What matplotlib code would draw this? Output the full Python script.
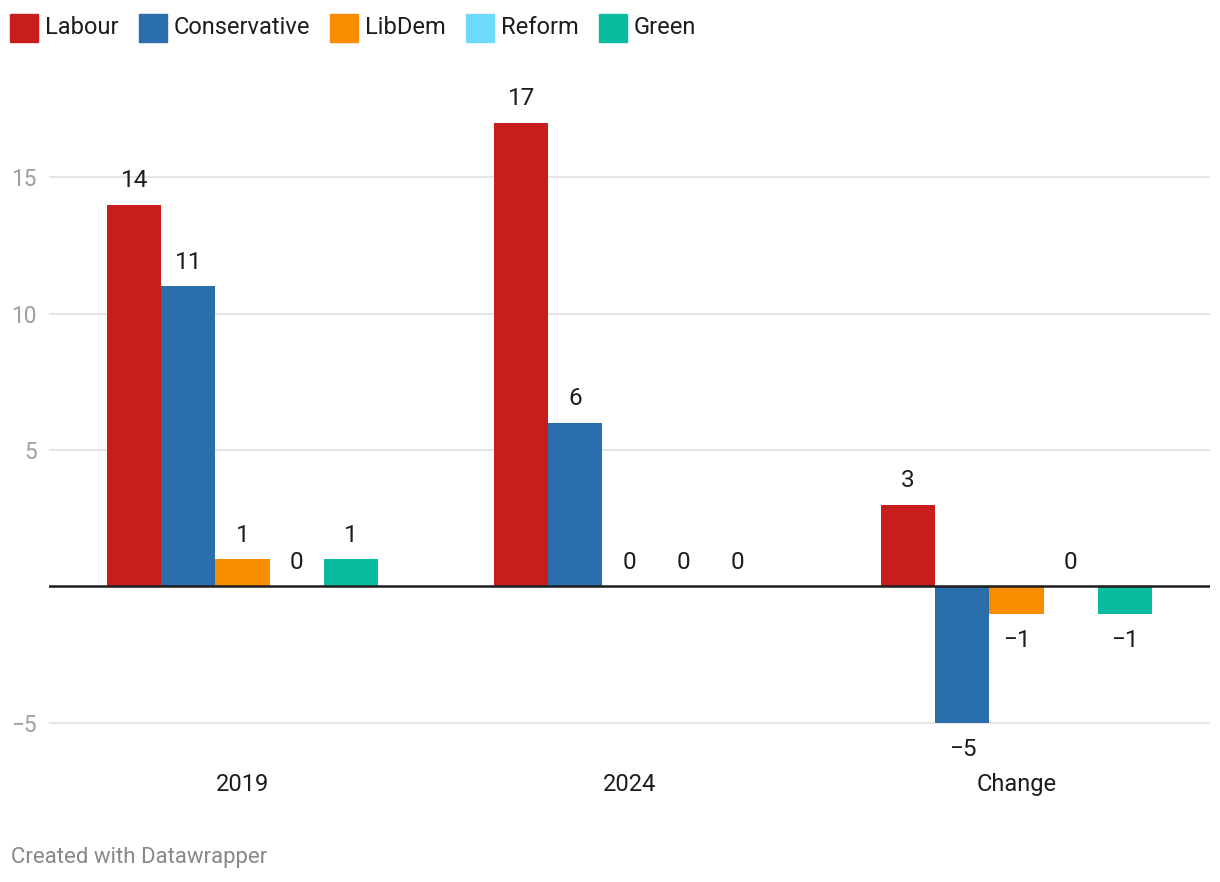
import numpy as np
import matplotlib.pyplot as plt
from matplotlib.patches import Rectangle

plt.rcParams['font.family'] = ['Roboto', 'DejaVu Sans']

groups = ['2019', '2024', 'Change']
parties = ['Labour', 'Conservative', 'LibDem', 'Reform', 'Green']
colors = ['#c71e1d', '#2a6fac', '#fa8c00', '#6dd9fd', '#09bb9f']
seats = {
    'Labour': [14, 17, 3],
    'Conservative': [11, 6, -5],
    'LibDem': [1, 0, -1],
    'Reform': [0, 0, 0],
    'Green': [1, 0, -1],
}
yticks = [-5, 5, 10, 15]

W, H = 1220, 882
fig = plt.figure(figsize=(W / 100, H / 100), dpi=100)
ax = fig.add_axes([49 / W, 1 - 763 / H, (1210 - 49) / W, (763 - 81) / H])

x = np.arange(len(groups))
bw = 0.14
for i, p in enumerate(parties):
    xs = x + (i - 2) * bw
    vals = seats[p]
    ax.bar(xs, vals, width=bw, color=colors[i], zorder=2)
    for xi, v in zip(xs, vals):
        if v < 0:
            ax.annotate('\u2212' + str(-v), (xi, v), xytext=(0, -19), textcoords='offset points',
                        ha='center', va='center', fontsize=17.5, color='#1d1d1d')
        else:
            ax.annotate(str(v), (xi, v), xytext=(0, 17.3), textcoords='offset points',
                        ha='center', va='center', fontsize=17.5, color='#1d1d1d')

ax.set_xlim(-0.5, 2.5)
ax.set_ylim(-6.47, 18.53)
ax.set_yticks(yticks)
ax.set_yticklabels([str(t).replace('-', '\u2212') for t in yticks])
ax.yaxis.grid(True, color='#e4e4e4', linewidth=1.3, zorder=0)
ax.axhline(0, color='#1d1d1d', linewidth=1.8, zorder=3)
ax.tick_params(axis='y', length=0, pad=8.6, labelsize=16.3, labelcolor='#a0a0a0')
ax.set_xticks(x)
ax.set_xticklabels(groups)
ax.tick_params(axis='x', length=0, pad=7.5, labelsize=17, labelcolor='#1d1d1d')
for s in ax.spines.values():
    s.set_visible(False)

# legend row at top
fig.canvas.draw()
r = fig.canvas.get_renderer()
lx = 10
for p, c in zip(parties, colors):
    fig.patches.append(Rectangle((lx / W, 1 - 42 / H), 28 / W, 28 / H,
                                 transform=fig.transFigure, color=c))
    t = fig.text((lx + 35) / W, 1 - 27 / H, p, fontsize=17, color='#1d1d1d', va='center', ha='left')
    bb = t.get_window_extent(r)
    lx = bb.x1 + 20

fig.text(11 / W, 1 - 857 / H, 'Created with Datawrapper', fontsize=16, color='#888888', va='center')

fig.savefig('out.png', dpi=100)
